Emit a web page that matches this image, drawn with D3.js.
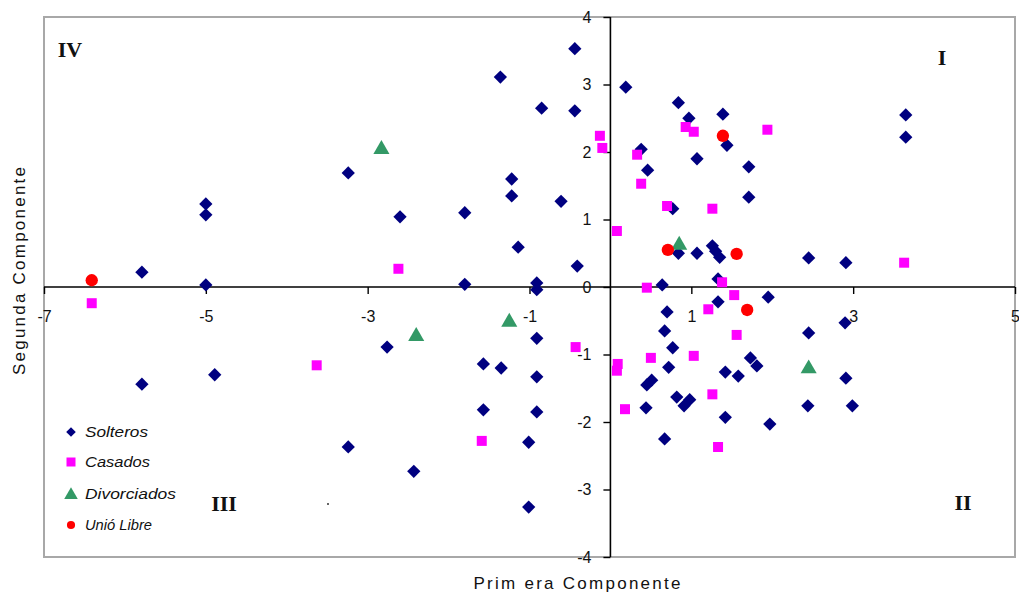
<!DOCTYPE html>
<html>
<head>
<meta charset="utf-8">
<script src="https://cdn.jsdelivr.net/npm/d3@7"></script>
<style>
  html, body { margin: 0; padding: 0; background: #fff; }
  svg { display: block; }
  text { font-family: "Liberation Sans", Arial, sans-serif; }
</style>
</head>
<body>
<svg id="chart" width="1019" height="596"></svg>
<script>
// ---------- data ----------
const xTicks = [-7, -5, -3, -1, 1, 3, 5];
const yTicks = [-4, -3, -2, -1, 0, 1, 2, 3, 4];

const solteros = [
  [-5.79, 0.22], [-5.00, 1.23], [-5.00, 1.07], [-5.00, 0.03], [-5.79, -1.44], [-4.89, -1.30],
  [-3.24, 1.69], [-2.60, 1.04], [-1.80, 1.10], [-1.80, 0.04], [-1.36, 3.11], [-1.22, 1.60],
  [-1.22, 1.35], [-1.14, 0.59], [-0.91, 0.06], [-0.91, -0.04], [-0.85, 2.65], [-0.61, 1.27],
  [-0.44, 3.53], [-0.44, 2.61], [-0.41, 0.31], [0.19, 2.96], [0.38, 2.04], [0.46, 1.73],
  [0.64, 0.03], [0.84, 2.73], [0.97, 2.50], [1.39, 2.56], [1.44, 2.10], [1.07, 1.90],
  [1.71, 1.78], [1.71, 1.33], [0.77, 1.16], [3.65, 2.55], [3.65, 2.22], [0.84, 0.50],
  [1.07, 0.50], [1.26, 0.61], [1.30, 0.53], [1.35, 0.44], [2.45, 0.43], [2.91, 0.36],
  [1.33, 0.12], [1.33, -0.22], [1.95, -0.15], [0.70, -0.37], [0.67, -0.65], [0.77, -0.90],
  [0.72, -1.19], [0.45, -1.45], [0.51, -1.38], [0.44, -1.79], [0.82, -1.63], [0.98, -1.67],
  [0.91, -1.76], [0.67, -2.25], [1.42, -1.26], [1.58, -1.32], [1.73, -1.05], [1.81, -1.17],
  [1.42, -1.93], [1.97, -2.03], [2.45, -0.68], [2.90, -0.53], [2.91, -1.35], [2.44, -1.76],
  [2.99, -1.76], [-2.76, -0.89], [-1.57, -1.14], [-1.35, -1.20], [-0.91, -0.76], [-0.91, -1.33],
  [-1.57, -1.82], [-0.91, -1.85], [-1.01, -2.30], [-3.24, -2.37], [-2.43, -2.73], [-1.01, -3.26]
];

const casados = [
  [-6.41, -0.24], [-2.62, 0.27], [-3.63, -1.16], [-1.59, -2.28], [-0.43, -0.89], [-0.13, 2.24],
  [-0.10, 2.06], [0.08, 0.83], [0.33, 1.96], [0.38, 1.53], [0.45, -0.01], [0.70, 1.20],
  [0.93, 2.37], [1.03, 2.30], [1.26, 1.16], [1.94, 2.33], [1.38, 0.07], [1.53, -0.12],
  [1.21, -0.33], [1.56, -0.71], [1.03, -1.02], [0.50, -1.05], [0.09, -1.14], [0.08, -1.24],
  [1.26, -1.59], [0.18, -1.81], [1.33, -2.37], [3.63, 0.36]
];

const divorciados = [
  [-2.83, 2.04], [-2.40, -0.73], [-1.25, -0.52], [0.85, 0.62], [2.45, -1.21]
];

const unionLibre = [
  [-6.41, 0.10], [0.71, 0.55], [1.56, 0.49], [1.39, 2.24], [1.69, -0.34]
];

const seriesNames = ["Solteros", "Casados", "Divorciados", "Unió Libre"];
const quadrantLabels = ["I", "II", "III", "IV"];

// ---------- layout ----------
(function () {
const svg = d3.select("#chart");
const pLeft = 44, pRight = 1015, pTop = 17, pBottom = 557;
const x = d3.scaleLinear().domain([-7, 5]).range([pLeft, pRight]);
const y = d3.scaleLinear().domain([-4, 4]).range([pBottom, pTop]);

const colors = ["#000080", "#FF00FF", "#339966", "#FF0000"];
const symbols = [d3.symbolSquare, d3.symbolSquare, d3.symbolTriangle, d3.symbolCircle];
const sizes = [88, 100, 112, 120];
const rotations = [45, 0, 0, 0];
const legendSizes = [46, 81, 80, 52];

// plot frame
svg.append("rect")
  .attr("x", pLeft).attr("y", pTop)
  .attr("width", pRight - pLeft).attr("height", pBottom - pTop)
  .attr("fill", "#fff").attr("stroke", "#a8a8a8").attr("stroke-width", 2);

// axes crossing at origin
const fmt = d => String(d);
const xAxis = d3.axisBottom(x).tickValues(xTicks).tickSize(7).tickPadding(17).tickFormat(fmt);
const yAxis = d3.axisLeft(y).tickValues(yTicks).tickSize(7).tickPadding(12).tickFormat(fmt);

const gx = svg.append("g").attr("transform", `translate(0,${y(0)})`).call(xAxis);
const gy = svg.append("g").attr("transform", `translate(${x(0)},0)`).call(yAxis);
[gx, gy].forEach(g => {
  g.select(".domain").attr("stroke", "#000").attr("stroke-width", 1.6);
  g.selectAll(".tick line").attr("stroke", "#000").attr("stroke-width", 1.4);
  g.selectAll(".tick text").attr("fill", "#111")
    .style("font-family", "'Liberation Sans', Arial, sans-serif").style("font-size", "16px");
});
gx.select(".domain").attr("d", `M${pLeft},0H${pRight}`);
gy.select(".domain").attr("d", `M0,${pTop}V${pBottom}`);

// data points
const allSeries = [solteros, casados, divorciados, unionLibre];
allSeries.forEach((data, i) => {
  const sym = d3.symbol().type(symbols[i]).size(sizes[i]);
  svg.append("g").selectAll("path").data(data).join("path")
    .attr("d", sym)
    .attr("transform", d => `translate(${x(d[0])},${y(d[1])}) rotate(${rotations[i]})`)
    .attr("fill", colors[i]);
});

// quadrant labels
const qPos = [[942, 65], [963, 510], [224, 511], [70, 57]];
svg.append("g").selectAll("text").data(quadrantLabels).join("text")
  .attr("x", (d, i) => qPos[i][0]).attr("y", (d, i) => qPos[i][1])
  .attr("text-anchor", "middle")
  .style("font-family", "'Liberation Serif', 'Times New Roman', serif")
  .style("font-weight", "bold").style("font-size", "22px")
  .attr("fill", "#111")
  .text(d => d);

// stray dot
svg.append("circle").attr("cx", 328).attr("cy", 504).attr("r", 1).attr("fill", "#333");

// legend
const legendY = [432, 462, 494, 525];
const legendW = [63, 65, 91, 67];
const lg = svg.append("g");
seriesNames.forEach((name, i) => {
  lg.append("path")
    .attr("d", d3.symbol().type(symbols[i]).size(legendSizes[i]))
    .attr("transform", `translate(71,${legendY[i] + (i === 2 ? 1 : 0)}) rotate(${rotations[i]})`)
    .attr("fill", colors[i]);
  lg.append("text")
    .attr("x", 85).attr("y", legendY[i] + 5)
    .attr("textLength", legendW[i]).attr("lengthAdjust", "spacingAndGlyphs")
    .style("font-size", "14px").style("font-style", "italic")
    .attr("fill", "#111")
    .text(name);
});

// axis titles
svg.append("text")
  .attr("x", 577).attr("y", 589)
  .attr("text-anchor", "middle")
  .attr("textLength", 207).attr("lengthAdjust", "spacing")
  .style("font-size", "17px").attr("fill", "#111")
  .text("Prim era Componente");

svg.append("text")
  .attr("transform", "translate(25,271) rotate(-90)")
  .attr("text-anchor", "middle")
  .attr("textLength", 208).attr("lengthAdjust", "spacing")
  .style("font-size", "17px").attr("fill", "#111")
  .text("Segunda  Componente");
})();
</script>
</body>
</html>
